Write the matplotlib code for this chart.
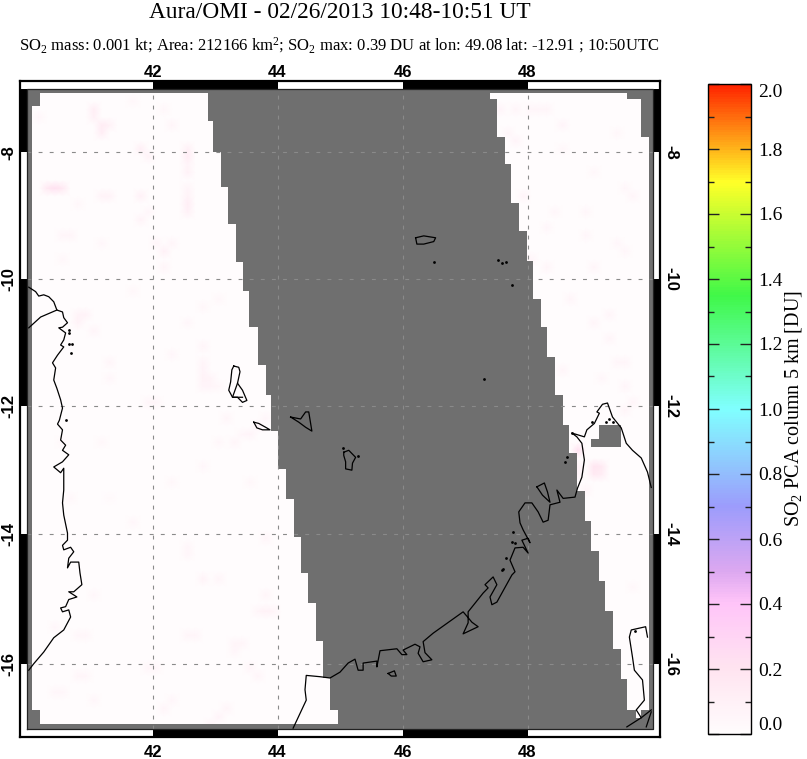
import numpy as np
import matplotlib
matplotlib.use("Agg")
import matplotlib.pyplot as plt
from matplotlib.colors import LinearSegmentedColormap, Normalize
from matplotlib.cm import ScalarMappable
from matplotlib.path import Path

plt.rcParams['font.family'] = ['Liberation Serif', 'DejaVu Serif']
plt.rcParams['mathtext.fontset'] = 'custom'
plt.rcParams['mathtext.rm'] = 'Liberation Serif'
plt.rcParams['mathtext.default'] = 'regular'

title = "Aura/OMI - 02/26/2013 10:48-10:51 UT"
subtitle = ("SO$_2$ mass: 0.001 kt; Area: 212166 km$^2$; SO$_2$ max: 0.39 DU "
            "at lon: 49.08 lat: -12.91 ; 10:50UTC")
cbar_label = "SO$_2$ PCA column 5 km [DU]"

lon_ticks = [42, 44, 46, 48]
lat_ticks = [-8, -10, -12, -14, -16]
cbar_ticks = [0.0, 0.2, 0.4, 0.6, 0.8, 1.0, 1.2, 1.4, 1.6, 1.8, 2.0]
cbar_minor = [0.1, 0.3, 0.5, 0.7, 0.9, 1.1, 1.3, 1.5, 1.7, 1.9]

# frame strips
lon_black = [(42, 44), (46, 48)]
lat_black = [(-8, -7), (-12, -10), (-16, -14)]

# colour stops
cmap_vals = [0.0, 0.2, 0.4, 0.5, 0.7, 1.0, 1.35, 1.7, 2.0]
cmap_cols = ['#fffcfd', '#ffe4f0', '#ffc4f8', '#dca8f0', '#9c9cfc',
             '#80ffff', '#40f848', '#ffff28', '#ff2400']

# west swath, one row between successive lat edges
west_lat = [-7.05, -7.27, -7.50, -8.0, -8.54, -9.14, -9.73, -10.19, -10.76, -11.35, -11.83,
            -12.39, -12.98, -13.45, -14.04, -14.60, -15.06, -15.65, -16.22, -16.71, -16.93]
west_lon0 = [40.20, 40.07, 40.07, 40.07, 40.07, 40.07, 40.07, 40.07, 40.07, 40.07,
             40.07, 40.07, 40.07, 40.07, 40.07, 40.07, 40.07, 40.07, 40.07, 40.20]
west_lon1 = [42.88, 42.88, 42.97, 43.10, 43.20, 43.33, 43.45, 43.55, 43.68, 43.81,
             43.90, 44.01, 44.14, 44.27, 44.38, 44.49, 44.62, 44.72, 44.84, 44.97]

# east swath
east_lat = [-7.05, -7.15, -7.75, -8.19, -8.80, -9.24, -9.71, -10.31, -10.76, -11.23, -11.83,
            -12.30, -12.73, -13.33, -13.79, -14.26, -14.72, -15.19, -15.77, -16.24, -16.71, -16.83]
east_lon0 = [47.40, 47.51, 47.64, 47.73, 47.86, 47.99, 48.09, 48.21, 48.31, 48.44, 48.57,
             48.66, 48.79, 48.92, 49.01, 49.14, 49.24, 49.36, 49.49, 49.59, 49.73]
east_lon1 = [49.59, 49.82, 49.95, 49.95, 49.95, 49.95, 49.95, 49.95, 49.95, 49.95, 49.95,
             49.95, 49.95, 49.95, 49.95, 49.95, 49.95, 49.95, 49.95, 49.95, 49.82]

# no-data block over the north tip of Madagascar
hole_lat = [-12.30, -12.52, -12.64]
hole_lon0 = [49.14, 49.01]
hole_lon1 = [49.49, 49.49]

# weak SO2 pixels
so2_lon = [41.12, 41.12, 41.23, 41.23, 41.35, 41.83, 41.95, 42.50, 42.50, 42.62, 40.35, 40.45, 40.58,
           41.13, 41.25, 41.85, 42.50, 42.50, 42.62, 42.17, 42.30, 40.52, 40.65, 41.85, 42.05,
           47.60, 47.75, 48.00, 48.15, 48.35, 48.50, 47.65, 47.80, 47.90, 49.72, 48.40, 48.25,
           48.10, 48.90, 49.10, 49.30,
           40.87, 40.95, 40.87, 41.10, 41.30, 41.90, 42.05, 42.80, 42.80, 42.80, 42.92, 42.92,
           43.20, 43.40, 43.65, 43.80, 42.30, 42.55, 41.30,
           48.80, 49.03, 49.03, 49.15, 49.15, 49.40, 49.50, 49.60, 48.75, 48.95,
           42.87, 43.00, 43.83, 43.95, 43.83, 43.70, 42.53, 42.65, 43.25, 43.38, 43.30,
           41.98, 42.10, 43.60, 43.70, 41.00, 41.12, 43.07, 43.20, 42.95, 42.20, 42.30,
           40.85, 40.95, 40.40, 40.52, 42.50, 42.60, 41.67, 43.75, 40.85, 40.98, 40.45, 41.05,
           48.70, 48.85, 49.30, 49.70, 49.45, 48.90, 49.55,
           40.20, 41.65, 42.20, 42.30, 40.80, 41.20, 41.90, 42.60, 42.50, 42.60, 42.20, 40.50,
           41.65, 42.80, 43.10, 42.80, 42.85, 43.00, 43.60, 43.30, 43.05, 42.80, 42.30, 41.15,
           40.50, 40.65, 41.30, 43.60,
           49.45, 48.55, 49.05, 49.55, 48.25, 49.50, 48.70, 49.05, 49.20, 49.70, 48.50]
so2_lat = [-7.27, -7.40, -7.60, -7.72, -7.60, -7.93, -8.05, -7.93, -8.05, -8.18, -8.60, -8.60, -8.60,
           -8.72, -8.72, -8.72, -8.85, -8.98, -8.72, -9.58, -9.45, -9.30, -9.30, -9.10, -9.50,
           -7.30, -7.35, -7.35, -7.30, -7.30, -7.55, -7.70, -7.85, -8.70, -8.75, -8.95, -9.20,
           -9.70, -9.30, -9.80, -10.60,
           -10.55, -10.55, -10.68, -10.80, -11.35, -11.95, -11.95, -11.45, -11.58, -11.70, -11.58, -11.70,
           -12.25, -12.40, -12.30, -12.25, -11.15, -10.75, -11.60,
           -12.68, -12.90, -13.03, -13.03, -12.90, -11.30, -11.65, -12.05, -12.95, -13.30,
           -14.67, -14.67, -15.13, -15.13, -15.00, -15.25, -15.60, -15.60, -15.72, -15.72, -15.85,
           -16.12, -16.12, -16.12, -16.25, -16.57, -16.57, -16.78, -16.65, -16.90, -16.75, -16.62,
           -16.20, -16.20, -16.40, -16.40, -14.15, -14.28, -13.85, -14.05, -15.60, -15.60, -15.40, -14.95,
           -13.90, -13.10, -10.90, -14.85, -9.45, -9.00, -11.35,
           -7.45, -7.25, -7.30, -7.55, -8.80, -9.40, -9.00, -8.60, -8.35, -8.20, -9.85, -9.70,
           -10.25, -10.50, -10.35, -11.30, -11.10, -11.70, -12.40, -12.55, -12.60, -13.00, -13.20, -12.60,
           -12.55, -13.50, -13.50, -13.20,
           -7.65, -8.00, -8.30, -8.60, -9.85, -9.55, -10.30, -10.65, -11.60, -11.90, -11.45]
so2_val = [0.12, 0.10, 0.14, 0.12, 0.09, 0.11, 0.08, 0.10, 0.13, 0.09, 0.16, 0.22, 0.16,
           0.08, 0.08, 0.10, 0.12, 0.10, 0.08, 0.10, 0.06, 0.06, 0.06, 0.08, 0.06,
           0.07, 0.06, 0.06, 0.06, 0.06, 0.07, 0.06, 0.07, 0.07, 0.06, 0.05, 0.05,
           0.06, 0.05, 0.06, 0.06,
           0.08, 0.08, 0.08, 0.06, 0.06, 0.06, 0.05, 0.07, 0.08, 0.07, 0.06, 0.06,
           0.06, 0.05, 0.06, 0.05, 0.05, 0.05, 0.05,
           0.22, 0.18, 0.15, 0.12, 0.15, 0.06, 0.06, 0.06, 0.07, 0.06,
           0.08, 0.06, 0.09, 0.06, 0.06, 0.06, 0.06, 0.06, 0.06, 0.06, 0.05,
           0.06, 0.05, 0.06, 0.06, 0.06, 0.05, 0.07, 0.06, 0.06, 0.06, 0.05,
           0.06, 0.05, 0.05, 0.05, 0.05, 0.05, 0.05, 0.06, 0.05, 0.05, 0.05, 0.05,
           0.06, 0.06, 0.06, 0.04, 0.05, 0.05, 0.06,
           0.05, 0.04, 0.04, 0.06, 0.04, 0.05, 0.05, 0.06, 0.09, 0.07, 0.06, 0.04,
           0.04, 0.04, 0.04, 0.06, 0.06, 0.04, 0.07, 0.06, 0.05, 0.05, 0.04, 0.04,
           0.05, 0.04, 0.03, 0.04,
           0.04, 0.04, 0.04, 0.05, 0.06, 0.05, 0.06, 0.06, 0.05, 0.06, 0.06]

# coast lines
mozambique_lon = [40.02, 40.13, 40.18, 40.26, 40.34, 40.42, 40.47, 40.56, 40.58, 40.64, 40.56, 40.50,
                  40.61, 40.58, 40.53, 40.58, 40.48, 40.40, 40.45, 40.42, 40.47, 40.53, 40.56, 40.51,
                  40.48, 40.56, 40.53, 40.61, 40.56, 40.66, 40.56, 40.42, 40.53, 40.58, 40.58, 40.56,
                  40.58, 40.64, 40.64, 40.56, 40.58, 40.69, 40.74, 40.66, 40.64, 40.69, 40.82, 40.84,
                  40.87, 40.74, 40.66, 40.79, 40.66, 40.61, 40.53, 40.56, 40.66, 40.69, 40.58, 40.42,
                  40.26, 40.10, 40.02]
mozambique_lat = [-10.13, -10.20, -10.27, -10.25, -10.28, -10.36, -10.49, -10.52, -10.61, -10.69, -10.76, -10.77,
                  -10.85, -10.96, -11.04, -11.07, -11.20, -11.32, -11.40, -11.59, -11.72, -11.90, -12.03, -12.22,
                  -12.28, -12.37, -12.53, -12.61, -12.69, -12.76, -12.87, -12.95, -13.04, -12.97, -13.31, -13.51,
                  -13.70, -13.98, -14.09, -14.17, -14.24, -14.20, -14.27, -14.37, -14.52, -14.43, -14.43, -14.60,
                  -14.78, -14.89, -14.89, -14.97, -15.01, -15.12, -15.14, -15.20, -15.17, -15.28, -15.48, -15.60,
                  -15.82, -16.00, -16.10]
border_lon = [40.47, 40.21, 40.02]
border_lat = [-10.49, -10.60, -10.77]

madagascar_lon = [44.25, 44.46, 44.44, 44.46, 44.68, 44.84, 45.00, 45.13, 45.24, 45.29, 45.37, 45.37, 45.59,
                  45.59, 45.64, 45.91, 45.99, 46.07, 46.01, 46.20, 46.28, 46.25, 46.33, 46.47, 46.36,
                  46.33, 46.49, 46.97, 47.05, 47.11, 47.21, 46.97, 47.05, 47.05, 47.29, 47.37, 47.32,
                  47.45, 47.51, 47.40, 47.43, 47.51, 47.75, 47.80, 47.72, 47.80, 47.93, 48.01, 47.91,
                  48.01, 48.04, 47.93, 47.88, 47.86, 47.96, 48.07, 48.17, 48.25, 48.33, 48.36, 48.52,
                  48.47, 48.57, 48.76, 48.80, 48.87, 48.91, 48.87, 48.79, 48.71, 48.91, 48.95, 49.07,
                  49.15, 49.11, 49.20, 49.28, 49.36, 49.50, 49.58, 49.68, 49.82, 49.92, 49.98]
madagascar_lat = [-16.99, -16.56, -16.40, -16.18, -16.20, -16.22, -16.13, -15.99, -15.93, -16.10, -16.10, -15.99, -15.96,
                  -16.05, -15.80, -15.77, -15.86, -15.86, -15.79, -15.70, -15.74, -15.84, -15.97, -15.94, -15.83,
                  -15.66, -15.53, -15.20, -15.29, -15.36, -15.43, -15.54, -15.37, -15.20, -14.91, -14.83, -14.78,
                  -14.66, -14.78, -14.97, -15.09, -15.05, -14.63, -14.58, -14.40, -14.21, -14.20, -14.29, -14.09,
                  -14.06, -14.13, -13.93, -13.82, -13.65, -13.51, -13.51, -13.65, -13.81, -13.78, -13.54, -13.50,
                  -13.31, -13.44, -13.42, -13.28, -13.11, -12.84, -12.58, -12.48, -12.42, -12.48, -12.37, -12.27,
                  -12.11, -12.09, -11.97, -11.95, -12.17, -12.34, -12.58, -12.69, -12.81, -13.03, -13.27]
south_coast_lon = [49.92, 49.89, 49.66, 49.63, 49.68, 49.71, 49.84, 49.87, 49.74, 49.82, 49.59]
south_coast_lat = [-15.59, -15.43, -15.48, -15.59, -15.90, -16.10, -16.25, -16.56, -16.71, -16.83, -16.97]
corner_lon = [49.82, 49.98]
corner_lat = [-16.83, -16.71]
corner2_lon = [49.90, 49.98]
corner2_lat = [-16.97, -16.74]

# closed island outlines
comoros1_lon = [43.30, 43.38, 43.40, 43.36, 43.44, 43.51, 43.44, 43.36, 43.28, 43.22, 43.25, 43.27, 43.30]
comoros1_lat = [-11.37, -11.39, -11.46, -11.64, -11.75, -11.91, -11.94, -11.86, -11.86, -11.75, -11.62, -11.43, -11.37]
comoros1b_lon = [43.36, 43.28, 43.44]
comoros1b_lat = [-11.64, -11.86, -11.86]
moheli_lon = [43.62, 43.70, 43.81, 43.88, 43.76, 43.67, 43.62]
moheli_lat = [-12.25, -12.27, -12.33, -12.37, -12.37, -12.34, -12.25]
anjouan_lon = [44.21, 44.37, 44.45, 44.50, 44.53, 44.55, 44.45, 44.34, 44.21]
anjouan_lat = [-12.17, -12.20, -12.09, -12.09, -12.27, -12.39, -12.33, -12.25, -12.17]
mayotte_lon = [45.06, 45.14, 45.25, 45.20, 45.19, 45.09, 45.09, 45.06, 45.06]
mayotte_lat = [-12.72, -12.69, -12.80, -12.89, -13.00, -12.98, -12.87, -12.77, -12.72]
glorioso_lon = [46.21, 46.34, 46.53, 46.50, 46.34, 46.23, 46.21]
glorioso_lat = [-9.35, -9.32, -9.35, -9.41, -9.45, -9.45, -9.35]
bay_isle_lon = [48.15, 48.27, 48.32, 48.36, 48.24, 48.15]
bay_isle_lat = [-13.26, -13.20, -13.34, -13.50, -13.39, -13.26]
small_isle_lon = [45.77, 45.87, 45.90, 45.82, 45.77]
small_isle_lat = [-16.15, -16.11, -16.19, -16.19, -16.15]

# single small islets
dots_lon = [40.66, 40.67, 40.66, 40.72, 40.69, 40.61, 45.04, 45.28, 46.50, 47.52, 47.59, 47.65, 47.75, 47.30,
            48.60, 48.63, 47.61, 47.80, 47.75, 47.65, 47.59, 47.77, 49.03, 48.71, 49.25, 49.30, 49.36, 49.72]
dots_lat = [-10.81, -10.85, -11.03, -11.02, -11.17, -12.22, -12.66, -12.78, -9.73, -9.70, -9.75, -9.73, -10.10, -11.57,
            -12.87, -12.80, -14.53, -14.14, -14.12, -14.36, -14.55, -13.96, -12.25, -12.42, -12.25, -12.20, -12.24, -15.50]


def merc(lat):
    return np.log(np.tan(np.pi / 4 + np.radians(np.asarray(lat, dtype=float)) / 2))


def merc_inv(y):
    return np.degrees(2 * np.arctan(np.exp(np.asarray(y, dtype=float))) - np.pi / 2)


def rect(x0, x1, y0, y1):
    return Path([(x0, y0), (x1, y0), (x1, y1), (x0, y1), (x0, y0)], closed=True)


fig = plt.figure(figsize=(8.07, 7.59), dpi=100)
W, H = 807.0, 759.0

ax = fig.add_axes([20 / W, 1 - 737 / H, 640 / W, 656 / H])
ax.set_yscale('function', functions=(merc, merc_inv))
ax.set_xlim(39.88, 50.12)
ax.set_ylim(-17.125, -6.865)
for s in ax.spines.values():
    s.set_linewidth(1.6)

# black and white strips around the map
for a, b in lon_black:
    ax.fill([a, b, b, a], [-17.125, -17.125, -17, -17], color='k', lw=0)
    ax.fill([a, b, b, a], [-7, -7, -6.865, -6.865], color='k', lw=0)
for a, b in lat_black:
    ax.fill([39.88, 40, 40, 39.88], [a, a, b, b], color='k', lw=0)
    ax.fill([50, 50.12, 50.12, 50], [a, a, b, b], color='k', lw=0)

gray = '#6f6f6f'
ax.fill([40, 50, 50, 40], [-17, -17, -7, -7], color=gray, lw=0, zorder=1)

swath_col = cmap_cols[0]
rows = []
for i in range(len(west_lon1)):
    ax.fill_betweenx([west_lat[i], west_lat[i + 1]], west_lon0[i], west_lon1[i],
                     color=swath_col, lw=0, zorder=2)
    rows.append(rect(west_lon0[i], west_lon1[i], west_lat[i + 1], west_lat[i]))
for i in range(len(east_lon0)):
    ax.fill_betweenx([east_lat[i], east_lat[i + 1]], east_lon0[i], east_lon1[i],
                     color=swath_col, lw=0, zorder=2)
    rows.append(rect(east_lon0[i], east_lon1[i], east_lat[i + 1], east_lat[i]))

cmap = LinearSegmentedColormap.from_list(
    'so2', [(v / 2.0, c) for v, c in zip(cmap_vals, cmap_cols)], N=256)
norm = Normalize(0, 2)

# smooth the pixels a bit and keep them inside the swath
lon_nodes = np.arange(80) * 0.125 + 40.0625
lat_nodes = np.arange(80) * 0.125 - 16.9375
grid = np.zeros((80, 80))
for lo, la, v in zip(so2_lon, so2_lat, so2_val):
    grid[int((la + 17) / 0.125), int((lo - 40) / 0.125)] = v
mesh = ax.pcolormesh(lon_nodes, lat_nodes, grid, cmap=cmap, norm=norm, shading='gouraud', zorder=3)
mesh.set_clip_path(Path.make_compound_path(*rows), ax.transData)

for i in range(len(hole_lon0)):
    ax.fill_betweenx([hole_lat[i], hole_lat[i + 1]], hole_lon0[i], hole_lon1[i],
                     color=gray, lw=0, zorder=4)

# graticule
for lo in lon_ticks:
    ax.plot([lo, lo], [-17, -7], color='#8a8a8a', lw=0.8, dashes=(3.5, 5.5), zorder=5)
for la in lat_ticks:
    ax.plot([40, 50], [la, la], color='#8a8a8a', lw=0.8, dashes=(3.5, 6.5), zorder=5)

lines = [(mozambique_lon, mozambique_lat), (border_lon, border_lat),
         (madagascar_lon, madagascar_lat), (south_coast_lon, south_coast_lat),
         (corner_lon, corner_lat), (corner2_lon, corner2_lat),
         (comoros1_lon, comoros1_lat), (comoros1b_lon, comoros1b_lat),
         (moheli_lon, moheli_lat), (anjouan_lon, anjouan_lat),
         (mayotte_lon, mayotte_lat), (glorioso_lon, glorioso_lat),
         (bay_isle_lon, bay_isle_lat), (small_isle_lon, small_isle_lat)]
for xs, ys in lines:
    ax.plot(xs, ys, color='k', lw=0.9, zorder=6)
ax.plot(dots_lon, dots_lat, ls='none', marker='o', ms=2.0, color='k', mew=0, zorder=6)

# thin outline of the map itself
ax.plot([40, 50, 50, 40, 40], [-17, -17, -7, -7, -17], color='#222222', lw=0.9, zorder=7)

# tick labels, no tick marks
tick_font = dict(family='Liberation Sans', weight='bold', fontsize=12)
ax.set_xticks(lon_ticks)
ax.set_xticklabels([str(v) for v in lon_ticks], **tick_font)
ax.set_yticks(lat_ticks)
ax.set_yticklabels([str(v) for v in lat_ticks], rotation=90, va='center', **tick_font)
ax.minorticks_off()
ax.tick_params(axis='x', which='both', length=0, top=False, labeltop=False, bottom=True, labelbottom=True, pad=5.5)
ax.tick_params(axis='y', which='both', length=0, left=True, labelleft=True, right=True, labelright=True, pad=2.5)
for v in lon_ticks:
    ax.annotate(str(v), (v, 1), xycoords=ax.get_xaxis_transform(), xytext=(0, 3),
                textcoords='offset points', ha='center', va='baseline', **tick_font)
for tick in ax.yaxis.get_major_ticks():
    tick.label2.set_rotation(270)
    tick.label2.set_va('center')
    tick.label2.set_fontfamily('Liberation Sans')
    tick.label2.set_fontweight('bold')
    tick.label2.set_fontsize(12)

fig.text(339.5 / W, 1 - 12 / H, title, ha='center', va='center', fontsize=16.8)
fig.text(339.5 / W, 1 - 45 / H, subtitle, ha='center', va='center', fontsize=12)

# colour bar
cax = fig.add_axes([708 / W, 1 - 734 / H, 43 / W, 650 / H])
cb = fig.colorbar(ScalarMappable(norm=norm, cmap=cmap), cax=cax)
cb.outline.set_linewidth(1.0)
cb.set_ticks(cbar_ticks)
cb.set_ticklabels(['%.1f' % v for v in cbar_ticks])
cax.set_yticks(cbar_minor, minor=True)
cax.tick_params(axis='y', which='major', direction='in', length=8, width=1.0, left=True, right=True,
                labelsize=14, pad=5, color='#222222')
cax.tick_params(axis='y', which='minor', direction='in', length=4, width=1.0, left=True, right=True,
                color='#222222')
labs = cax.get_yticklabels()
labs[0].set_va('bottom')
labs[-1].set_va('top')
fig.text(793 / W, 1 - 409 / H, cbar_label, rotation=90, ha='center', va='center', fontsize=14.5)

fig.savefig('out.png', dpi=100)
